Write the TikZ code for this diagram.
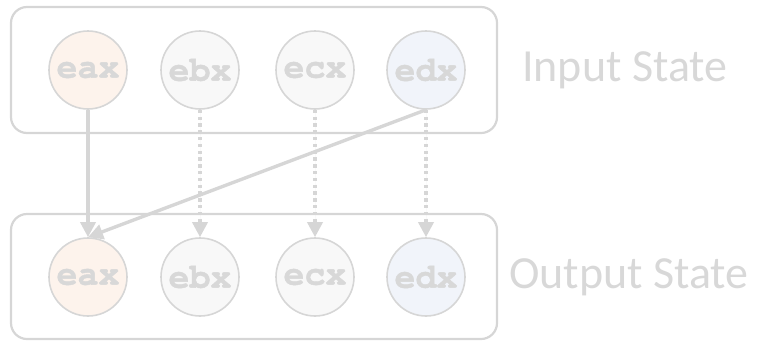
\documentclass[tikz,border=0pt]{standalone}
\usepackage{fontspec}
\setmainfont{Carlito}
\newfontfamily\regfont[BoldFeatures={FakeBold=1.2}]{TeX Gyre Cursor}
\usetikzlibrary{arrows.meta}
\definecolor{lineg}{HTML}{D6D6D6}
\definecolor{textg}{HTML}{D8D8D8}
\definecolor{fillA}{HTML}{FDF3EC}
\definecolor{fillB}{HTML}{F8F8F8}
\definecolor{fillD}{HTML}{F1F4FA}
\tikzset{
  reg/.style={circle, draw=lineg, line width=1.6pt, minimum size=78pt, inner sep=0pt,
    font=\regfont\bfseries\fontsize{35}{35}\selectfont, text=textg},
  statebox/.style={draw=lineg, line width=2.2pt, rounded corners=16pt},
  statelabel/.style={font=\fontsize{46}{46}\selectfont, text=textg, anchor=west, inner sep=0pt},
  flow/.style={draw=lineg, line width=3.4pt, -{Triangle[width=15pt,length=15pt]}, fill=lineg},
  copyflow/.style={flow, dash pattern=on 3.4pt off 3.4pt},
}
\begin{document}
\begin{tikzpicture}[x=1pt,y=-1pt]
  \useasboundingbox (0,0) rectangle (757,341);
  % state frames
  \draw[statebox] (11,7) rectangle (497,133);
  \draw[statebox] (11,214) rectangle (497,339);
  % input registers
  \node[reg, fill=fillA] (ieax) at (88,70) {eax};
  \node[reg, fill=fillB] (iebx) at (200,70) {ebx};
  \node[reg, fill=fillB] (iecx) at (315,70) {ecx};
  \node[reg, fill=fillD] (iedx) at (426,70) {edx};
  % output registers
  \node[reg, fill=fillA] (oeax) at (88,277) {eax};
  \node[reg, fill=fillB] (oebx) at (200,277) {ebx};
  \node[reg, fill=fillB] (oecx) at (315,277) {ecx};
  \node[reg, fill=fillD] (oedx) at (426,277) {edx};
  % labels
  \node[statelabel] (inlabel) at (522,70) {Input State};
  \node[statelabel] (outlabel) at (509,277) {Output State};
  % data flow
  \draw[flow] (ieax.south) -- (oeax.north);
  \draw[flow] (iedx.south) -- (oeax.north);
  \draw[copyflow] (iebx.south) -- (oebx.north);
  \draw[copyflow] (iecx.south) -- (oecx.north);
  \draw[copyflow] (iedx.south) -- (oedx.north);
\end{tikzpicture}
\end{document}
